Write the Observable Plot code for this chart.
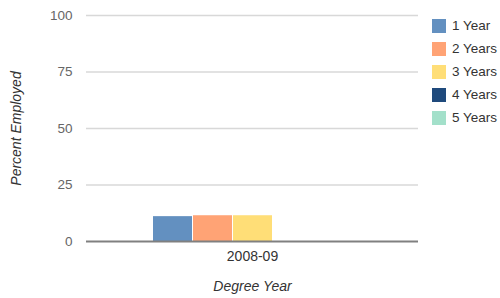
<!DOCTYPE html>
<html><head><meta charset="utf-8">
<script src="https://cdn.jsdelivr.net/npm/d3@7"></script>
<script src="https://cdn.jsdelivr.net/npm/@observablehq/plot@0.6"></script>
<style>
body{margin:0;background:#fff;font-family:"Liberation Sans",Arial,sans-serif;}
#wrap{position:relative;width:500px;height:298px;}
#legend{position:absolute;left:432px;top:14px;}
.row{display:flex;align-items:center;height:23px;font-size:13.5px;color:#333;}
.sw{width:14px;height:14px;margin-right:6px;}
</style>
</head><body>
<div id="wrap"><div id="chart"></div><div id="legend"></div></div>
<script>
const years = ["2008-09"];
const series = ["1 Year", "2 Years", "3 Years", "4 Years", "5 Years"];
const values = [11, 11.4, 11.4, null, null];
const colors = ["#6390c0", "#ffa375", "#ffde77", "#1f4a7c", "#a3e0ca"];
const yTicks = [0, 25, 50, 75, 100];

const data = series.map((s, i) => ({year: years[0], series: s, value: values[i]})).filter(d => d.value != null);

const chart = Plot.plot({
  width: 500, height: 298,
  marginLeft: 86, marginRight: 82, marginTop: 15, marginBottom: 57,
  style: {fontFamily: '"Liberation Sans", Arial, sans-serif', fontSize: "13px"},
  x: {domain: series, paddingInner: 0.025, paddingOuter: 1.64, axis: null},
  y: {domain: [0, 100], axis: null},
  color: {domain: series, range: colors},
  marks: [
    Plot.ruleY(yTicks.filter(d => d > 0), {stroke: "#d8d8d8", strokeWidth: 1.5}),
    Plot.axisY({ticks: yTicks, tickSize: 0, tickPadding: 14, label: null, fill: "#666", fontSize: 13.5}),
    Plot.barY(data, {x: "series", y: "value", fill: "series"}),
    Plot.ruleY([0], {stroke: "#808080", strokeWidth: 2}),
    Plot.text(years, {frameAnchor: "bottom", dy: 19, text: d => d, fill: "#333", fontSize: 14}),
    Plot.text(["Degree Year"], {frameAnchor: "bottom", dy: 49, text: d => d, fill: "#333", fontSize: 14, fontStyle: "italic"}),
    Plot.text(["Percent Employed"], {frameAnchor: "left", textAnchor: "middle", dx: -70, rotate: -90, text: d => d, fill: "#333", fontSize: 14, fontStyle: "italic"})
  ]
});
document.getElementById("chart").append(chart);

const lg = d3.select("#legend");
series.forEach((s, i) => {
  const r = lg.append("div").attr("class", "row");
  r.append("div").attr("class", "sw").style("background", colors[i]);
  r.append("span").text(s);
});
</script>
</body></html>
